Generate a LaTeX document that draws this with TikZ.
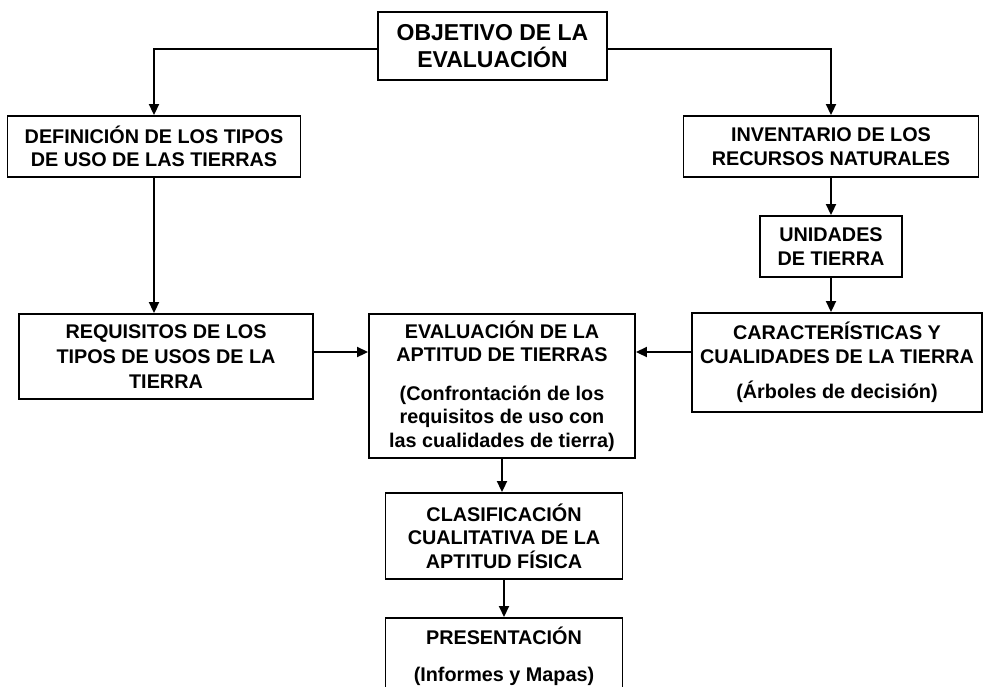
\documentclass[tikz,border=0pt]{standalone}
\usepackage{fontspec}
\setmainfont{Liberation Sans}
\usetikzlibrary{arrows.meta}

\begin{document}
\begin{tikzpicture}[x=1pt, y=-1pt, line width=1.9pt,
        >={Triangle[width=10pt,length=11pt]},
        box/.style={draw, align=center, inner sep=2pt,
            font=\bfseries\fontsize{19.8}{23.5}\selectfont}]
        \useasboundingbox (0,0) rectangle (984,686);

        \node[box, minimum width=229pt, minimum height=68pt,
            font=\bfseries\fontsize{23}{27}\selectfont] (obj) at (492.5,46) {OBJETIVO DE LA\\EVALUACIÓN};
        \node[box, minimum width=293pt, minimum height=61pt] (def) at (154,146.5) {DEFINICIÓN DE LOS TIPOS\\DE USO DE LAS TIERRAS};
        \node[box, minimum width=295pt, minimum height=61pt] (inv) at (831,146.5) {INVENTARIO DE LOS\\RECURSOS NATURALES};
        \node[box, minimum width=142pt, minimum height=61pt] (uni) at (831,246.5) {UNIDADES\\DE TIERRA};
        \node[box, minimum width=290pt, minimum height=99pt] (car) at (837,362.5) {CARACTERÍSTICAS Y\\CUALIDADES DE LA TIERRA\\[12pt](Árboles de decisión)};
        \node[box, minimum width=294pt, minimum height=85pt,
            font=\bfseries\fontsize{19.8}{25}\selectfont] (req) at (166,356.5) {REQUISITOS DE LOS\\TIPOS DE USOS DE LA\\TIERRA};
        \node[box, minimum width=266pt, minimum height=144pt] (eva) at (502,386) {EVALUACIÓN DE LA\\APTITUD DE TIERRAS\\[15pt](Confrontación de los\\requisitos de uso con\\las cualidades de tierra)};
        \node[box, minimum width=237pt, minimum height=86pt] (cla) at (504,536) {CLASIFICACIÓN\\CUALITATIVA DE LA\\APTITUD FÍSICA};
        \node[box, minimum width=237pt, minimum height=77pt, anchor=north] (pre) at (504,617) {PRESENTACIÓN\\[14pt](Informes y Mapas)};

        \coordinate (top) at (0,49);
        \coordinate (mid) at (0,352);

        \draw[->] (obj.west |- top) -| (def.north);
        \draw[->] (obj.east |- top) -| (inv.north);
        \draw[->] (def.south) -- (def.south |- req.north);
        \draw[->] (inv.south) -- (uni.north);
        \draw[->] (uni.south) -- (uni.south |- car.north);
        \draw[->] (req.east |- mid) -- (eva.west |- mid);
        \draw[->] (car.west |- mid) -- (eva.east |- mid);
        \draw[->] (eva.south) -- (eva.south |- cla.north);
        \draw[->] (cla.south) -- (cla.south |- pre.north);
    \end{tikzpicture}
\end{document}
